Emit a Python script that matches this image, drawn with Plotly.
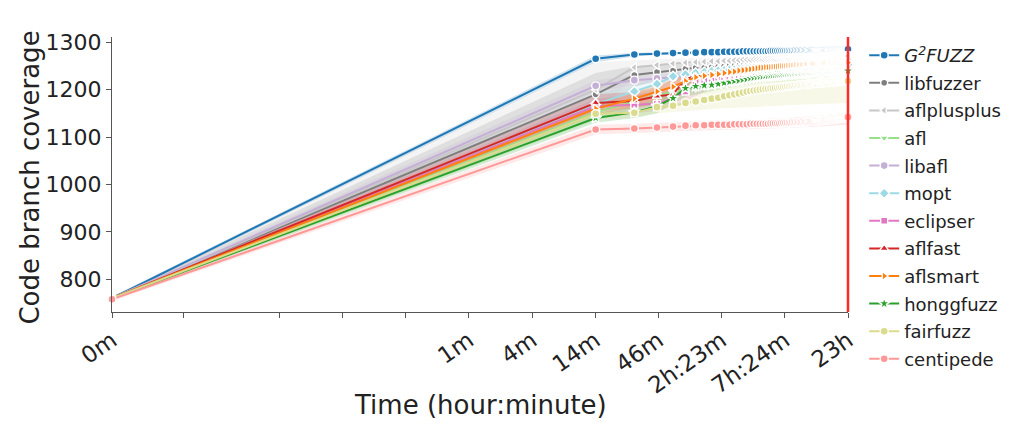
import numpy as np
import plotly.graph_objects as go

# ---------------- data ----------------
# snapshot times in seconds: t=0 then every 15 minutes up to 23h
SAMPLE_TIMES_S = [0] + [900 * k for k in range(1, 93)]

G2FUZZ = [760,
 1265,1274,1276,1277,1278,1278,1279,1279,1279,1280,
 1280,1280,1280,1281,1281,1281,1281,1281,1281,1281,
 1281,1281,1282,1282,1282,1282,1282,1282,1282,1282,
 1282,1282,1282,1282,1282,1283,1283,1283,1283,1283,
 1283,1283,1283,1283,1283,1283,1283,1283,1283,1283,
 1283,1283,1283,1283,1283,1283,1283,1283,1283,1283,
 1283,1283,1283,1283,1283,1284,1284,1284,1284,1284,
 1284,1284,1284,1284,1284,1284,1284,1284,1284,1284,
 1284,1284,1284,1284,1284,1284,1284,1284,1284,1284,1284,1285]

LIBFUZZER = [761,
 1190,1231,1237,1240,1244,1246,1246,1247,1248,1249,
 1250,1250,1251,1251,1252,1252,1253,1253,1254,1254,
 1255,1255,1255,1256,1256,1256,1257,1257,1257,1257,
 1258,1258,1258,1258,1258,1259,1259,1259,1259,1259,
 1259,1260,1260,1260,1260,1260,1260,1260,1260,1261,
 1261,1261,1261,1261,1261,1261,1261,1261,1261,1261,
 1261,1261,1261,1262,1262,1262,1262,1262,1262,1262,
 1262,1262,1262,1262,1262,1262,1262,1262,1262,1262,
 1262,1262,1262,1262,1263,1263,1263,1263,1263,1263,1263,1263]

AFLPLUSPLUS = [760,
 1200,1247,1252,1255,1257,1258,1259,1260,1260,1261,
 1261,1262,1262,1263,1263,1263,1264,1264,1264,1264,
 1265,1265,1265,1265,1265,1266,1266,1266,1266,1266,
 1266,1266,1267,1267,1267,1267,1267,1267,1267,1267,
 1267,1267,1268,1268,1268,1268,1268,1268,1268,1268,
 1268,1268,1268,1269,1269,1269,1269,1269,1269,1269,
 1269,1269,1269,1269,1269,1269,1269,1270,1270,1270,
 1270,1270,1270,1270,1270,1270,1270,1270,1270,1270,
 1270,1270,1270,1270,1270,1270,1271,1271,1271,1271,1271,1271]

AFL = [760,
 1152,1175,1188,1195,1200,1204,1207,1210,1212,1214,
 1216,1217,1218,1219,1220,1221,1222,1223,1224,1225,
 1225,1226,1226,1227,1227,1228,1228,1229,1229,1229,
 1230,1230,1230,1231,1231,1231,1231,1232,1232,1232,
 1232,1233,1233,1233,1233,1233,1234,1234,1234,1234,
 1234,1234,1235,1235,1235,1235,1235,1235,1235,1236,
 1236,1236,1236,1236,1236,1236,1236,1237,1237,1237,
 1237,1237,1237,1237,1237,1237,1237,1238,1238,1238,
 1238,1238,1238,1238,1238,1238,1238,1238,1238,1239,1239,1239]

LIBAFL = [760,
 1208,1220,1224,1226,1228,1230,1231,1232,1233,1234,
 1235,1235,1236,1236,1237,1237,1238,1238,1238,1239,
 1239,1239,1239,1240,1240,1240,1240,1240,1241,1241,
 1241,1241,1241,1241,1242,1242,1242,1242,1242,1242,
 1242,1243,1243,1243,1243,1243,1243,1243,1243,1244,
 1244,1244,1244,1244,1244,1244,1244,1244,1245,1245,
 1245,1245,1245,1245,1245,1245,1245,1245,1246,1246,
 1246,1246,1246,1246,1246,1246,1246,1246,1246,1246,
 1247,1247,1247,1247,1247,1247,1247,1247,1247,1247,1247,1247]

MOPT = [760,
 1170,1196,1212,1228,1232,1235,1237,1239,1240,1241,
 1242,1242,1243,1243,1244,1244,1245,1245,1245,1246,
 1246,1246,1246,1247,1247,1247,1247,1247,1248,1248,
 1248,1248,1248,1248,1249,1249,1249,1249,1249,1249,
 1249,1250,1250,1250,1250,1250,1250,1250,1250,1250,
 1250,1251,1251,1251,1251,1251,1251,1251,1251,1251,
 1251,1251,1251,1252,1252,1252,1252,1252,1252,1252,
 1252,1252,1252,1252,1252,1252,1252,1252,1253,1253,
 1253,1253,1253,1253,1253,1253,1253,1253,1253,1253,1253,1253]

ECLIPSER = [760,
 1165,1168,1170,1182,1196,1216,1220,1223,1225,1226,
 1227,1228,1228,1229,1229,1230,1230,1230,1231,1231,
 1231,1231,1232,1232,1232,1232,1232,1233,1233,1233,
 1233,1233,1233,1233,1234,1234,1234,1234,1234,1234,
 1234,1234,1234,1235,1235,1235,1235,1235,1235,1235,
 1235,1235,1235,1235,1235,1236,1236,1236,1236,1236,
 1236,1236,1236,1236,1236,1236,1236,1236,1236,1236,
 1237,1237,1237,1237,1237,1237,1237,1237,1237,1237,
 1237,1237,1237,1237,1237,1237,1237,1238,1238,1238,1238,1238]

AFLFAST = [760,
 1172,1176,1186,1190,1222,1228,1230,1231,1232,1233,
 1234,1234,1235,1235,1236,1236,1236,1237,1237,1237,
 1238,1238,1238,1238,1239,1239,1239,1239,1239,1240,
 1240,1240,1240,1240,1240,1241,1241,1241,1241,1241,
 1241,1241,1242,1242,1242,1242,1242,1242,1242,1242,
 1242,1243,1243,1243,1243,1243,1243,1243,1243,1243,
 1243,1243,1244,1244,1244,1244,1244,1244,1244,1244,
 1244,1244,1244,1244,1244,1245,1245,1245,1245,1245,
 1245,1245,1245,1245,1245,1245,1245,1245,1245,1246,1246,1246]

AFLSMART = [760,
 1160,1181,1196,1206,1218,1226,1229,1231,1233,1235,
 1237,1238,1240,1241,1242,1243,1244,1245,1246,1246,
 1247,1247,1247,1248,1248,1248,1249,1249,1249,1249,
 1250,1250,1250,1250,1250,1251,1251,1251,1251,1251,
 1251,1252,1252,1252,1252,1252,1252,1252,1253,1253,
 1253,1253,1253,1253,1253,1254,1254,1254,1254,1254,
 1254,1254,1254,1255,1255,1255,1255,1255,1255,1255,
 1255,1255,1256,1256,1256,1256,1256,1256,1256,1256,
 1256,1256,1256,1257,1257,1257,1257,1257,1257,1257,1257,1257]

HONGGFUZZ = [760,
 1140,1152,1165,1182,1203,1207,1209,1210,1212,1214,
 1216,1218,1219,1221,1222,1224,1225,1226,1227,1228,
 1229,1229,1230,1230,1231,1231,1232,1232,1232,1233,
 1233,1233,1234,1234,1234,1234,1235,1235,1235,1235,
 1235,1236,1236,1236,1236,1236,1236,1237,1237,1237,
 1237,1237,1237,1237,1238,1238,1238,1238,1238,1238,
 1238,1238,1238,1239,1239,1239,1239,1239,1239,1239,
 1239,1239,1239,1239,1239,1239,1240,1240,1240,1240,
 1240,1240,1240,1240,1240,1240,1240,1240,1240,1240,1240,1240]

FAIRFUZZ = [760,
 1149,1151,1163,1166,1172,1175,1178,1181,1183,1186,
 1188,1190,1192,1194,1196,1197,1198,1199,1200,1201,
 1202,1202,1203,1203,1204,1204,1205,1205,1206,1206,
 1207,1207,1208,1208,1208,1209,1209,1210,1210,1210,
 1211,1211,1211,1211,1212,1212,1212,1212,1213,1213,
 1213,1213,1213,1214,1214,1214,1214,1214,1214,1215,
 1215,1215,1215,1215,1215,1215,1216,1216,1216,1216,
 1216,1216,1216,1216,1217,1217,1217,1217,1217,1217,
 1217,1217,1217,1218,1218,1218,1218,1218,1218,1218,1218,1218]

CENTIPEDE = [758,
 1116,1118,1120,1122,1124,1125,1125,1126,1126,1126,
 1126,1127,1127,1127,1127,1128,1128,1128,1128,1128,
 1128,1128,1129,1129,1129,1129,1129,1130,1130,1130,
 1130,1130,1130,1131,1131,1131,1131,1131,1131,1131,
 1132,1132,1132,1132,1132,1133,1133,1133,1133,1133,
 1134,1134,1134,1134,1134,1135,1135,1135,1135,1135,
 1136,1136,1136,1136,1136,1137,1137,1137,1137,1137,
 1138,1138,1138,1138,1138,1139,1139,1139,1139,1139,
 1139,1140,1140,1140,1140,1140,1141,1141,1141,1141,1141,1142]

# confidence band edges, read at a few snapshot times
BAND_TIMES_S = [0, 900, 1800, 2700, 4500, 8100, 14400, 27000, 49500, 82800]
BANDS = {
    "G2FUZZ":      ([757, 1258, 1270, 1273, 1275, 1277, 1278, 1279, 1280, 1281],
                    [763, 1272, 1278, 1279, 1281, 1282, 1283, 1284, 1285, 1287]),
    "libfuzzer":   ([757, 1150, 1205, 1220, 1230, 1238, 1244, 1248, 1252, 1255],
                    [764, 1235, 1250, 1252, 1256, 1258, 1260, 1263, 1266, 1269]),
    "aflplusplus": ([757, 1150, 1225, 1240, 1246, 1251, 1256, 1260, 1263, 1266],
                    [764, 1257, 1262, 1264, 1266, 1267, 1269, 1270, 1272, 1274]),
    "afl":         ([757, 1135, 1160, 1175, 1190, 1205, 1212, 1218, 1222, 1226],
                    [763, 1170, 1190, 1200, 1210, 1220, 1228, 1234, 1240, 1246]),
    "libafl":      ([757, 1195, 1210, 1215, 1220, 1226, 1232, 1236, 1239, 1241],
                    [763, 1220, 1230, 1232, 1236, 1240, 1244, 1248, 1251, 1254]),
    "mopt":        ([757, 1150, 1180, 1198, 1220, 1232, 1238, 1241, 1243, 1245],
                    [763, 1190, 1210, 1225, 1240, 1246, 1250, 1253, 1256, 1258]),
    "eclipser":    ([757, 1150, 1150, 1155, 1175, 1210, 1222, 1225, 1228, 1230],
                    [763, 1180, 1190, 1195, 1215, 1235, 1238, 1240, 1243, 1245]),
    "aflfast":     ([757, 1155, 1160, 1170, 1200, 1220, 1228, 1232, 1235, 1237],
                    [763, 1190, 1195, 1205, 1235, 1242, 1244, 1246, 1249, 1251]),
    "aflsmart":    ([757, 1145, 1165, 1180, 1205, 1225, 1236, 1242, 1246, 1250],
                    [763, 1175, 1195, 1210, 1230, 1242, 1252, 1256, 1260, 1264]),
    "honggfuzz":   ([757, 1130, 1140, 1150, 1185, 1200, 1212, 1222, 1228, 1232],
                    [763, 1150, 1165, 1180, 1215, 1222, 1234, 1240, 1244, 1247]),
    "fairfuzz":    ([757, 1138, 1140, 1150, 1155, 1160, 1163, 1167, 1170, 1172],
                    [763, 1160, 1165, 1180, 1195, 1210, 1222, 1230, 1236, 1240]),
    "centipede":   ([754, 1106, 1108, 1110, 1113, 1115, 1117, 1119, 1122, 1126],
                    [762, 1126, 1128, 1130, 1133, 1135, 1137, 1140, 1145, 1152]),
}

FUZZERS = ["G2FUZZ", "libfuzzer", "aflplusplus", "afl", "libafl", "mopt",
           "eclipser", "aflfast", "aflsmart", "honggfuzz", "fairfuzz", "centipede"]
LEGEND_NAMES = ["<i>G<sup>2</sup>FUZZ</i>", "libfuzzer", "aflplusplus", "afl", "libafl",
                "mopt", "eclipser", "aflfast", "aflsmart", "honggfuzz", "fairfuzz", "centipede"]
SERIES = [G2FUZZ, LIBFUZZER, AFLPLUSPLUS, AFL, LIBAFL, MOPT, ECLIPSER, AFLFAST,
          AFLSMART, HONGGFUZZ, FAIRFUZZ, CENTIPEDE]
COLORS = ["#1f77b4", "#7f7f7f", "#c7c7c7", "#98df8a", "#c5b0d5", "#9edae5",
          "#e377c2", "#d62728", "#ff7f0e", "#2ca02c", "#dbdb8d", "#ff9896"]
SYMBOLS = ["circle", "circle", "triangle-left", "triangle-down", "circle", "diamond",
           "square", "triangle-up", "triangle-right", "star", "circle", "circle"]
SIZES = [8, 7, 8, 8, 8, 8, 7, 8, 8, 9, 8, 8]

LABELED_TICK_TIMES_S = [0] + list(np.geomspace(1, 82800, 11))[4:]
TICK_LABELS = ["0m", "1m", "4m", "14m", "46m", "2h:23m", "7h:24m", "23h"]
MINOR_TICK_TIMES_S = list(np.geomspace(1, 82800, 11))[:4]
Y_TICKS = [800, 900, 1000, 1100, 1200, 1300]
X_TITLE = "Time (hour:minute)"
Y_TITLE = "Code branch coverage"

for s in SERIES:
    assert len(s) == len(SAMPLE_TIMES_S), len(s)

# ---------------- symlog scale (linthresh=2, linscale=1, base 10) ----------------
LINTHRESH = 2.0
LINSCALE_ADJ = 1.0 / (1.0 - 1.0 / 10.0)


def symlog(t):
    t = np.asarray(t, dtype=float)
    return np.where(t > LINTHRESH,
                    LINSCALE_ADJ + np.log10(np.maximum(t, LINTHRESH) / LINTHRESH),
                    t / LINTHRESH * LINSCALE_ADJ)


def rgba(hex_color, a):
    h = hex_color.lstrip("#")
    r, g, b = int(h[0:2], 16), int(h[2:4], 16), int(h[4:6], 16)
    return f"rgba({r},{g},{b},{a})"


FONT = "DejaVu Sans"
x_samples = symlog(SAMPLE_TIMES_S)
x_band = symlog(BAND_TIMES_S)

fig = go.Figure()

# bands first (underneath)
for key, col in zip(FUZZERS, COLORS):
    lo, hi = BANDS[key]
    fig.add_trace(go.Scatter(
        x=np.concatenate([x_band, x_band[::-1]]),
        y=list(hi) + list(lo)[::-1],
        fill="toself", fillcolor=rgba(col, 0.2),
        line=dict(width=0), mode="lines",
        hoverinfo="skip", showlegend=False, legendgroup=key))

for key, name, vals, col, sym, sz in zip(FUZZERS, LEGEND_NAMES, SERIES, COLORS, SYMBOLS, SIZES):
    fig.add_trace(go.Scatter(
        x=x_samples, y=vals, name=name, legendgroup=key,
        mode="lines+markers",
        line=dict(color=col, width=2),
        marker=dict(symbol=sym, size=sz, color=col, line=dict(color="white", width=1.4)),
        cliponaxis=False))

# vertical marker at the end of the x axis (paper x = 1 is the axis end, not clipped)
fig.add_shape(type="line", xref="paper", yref="paper", x0=1, x1=1, y0=0, y1=1,
              line=dict(color="#ff2a2a", width=2.5), layer="above")

# axis titles as annotations for precise placement
fig.add_annotation(text=X_TITLE, xref="paper", yref="paper", x=0.5, y=-0.338,
                   xanchor="center", yanchor="middle", showarrow=False,
                   font=dict(size=26, family=FONT, color="#222222"))
fig.add_annotation(text=Y_TITLE, xref="paper", yref="paper", x=-0.111, y=0.49,
                   xanchor="center", yanchor="middle", showarrow=False, textangle=-90,
                   font=dict(size=26, family=FONT, color="#222222"))

fig.update_layout(
    width=1024, height=430,
    margin=dict(l=112, r=176, t=37, b=118),
    paper_bgcolor="white", plot_bgcolor="white",
    font=dict(family=FONT, color="#222222"),
    showlegend=True,
    legend=dict(x=1.022, y=1.0, xanchor="left", yanchor="top",
                font=dict(family=FONT, size=18, color="#222222"),
                tracegroupgap=1.2, bgcolor="rgba(0,0,0,0)", maxheight=420),
    xaxis=dict(
        automargin=False,
        range=[0, float(symlog(82800))],
        tickmode="array", tickvals=list(symlog(LABELED_TICK_TIMES_S)), ticktext=TICK_LABELS,
        tickangle=-35, tickfont=dict(size=23, family=FONT, color="#222222"),
        ticks="outside", ticklen=5, tickcolor="#555555",
        minor=dict(tickmode="array", tickvals=list(symlog(MINOR_TICK_TIMES_S)),
                   ticks="outside", ticklen=5, tickcolor="#555555"),
        showline=True, linecolor="#555555", linewidth=1.2,
        showgrid=False, zeroline=False,
    ),
    yaxis=dict(
        automargin=False,
        range=[731, 1311],
        tickmode="array", tickvals=Y_TICKS,
        tickfont=dict(size=22, family=FONT, color="#222222"),
        ticks="outside", ticklen=5, tickcolor="#555555",
        showline=True, linecolor="#555555", linewidth=1.2,
        showgrid=False, zeroline=False,
    ),
)

fig.write_html("out.html")
